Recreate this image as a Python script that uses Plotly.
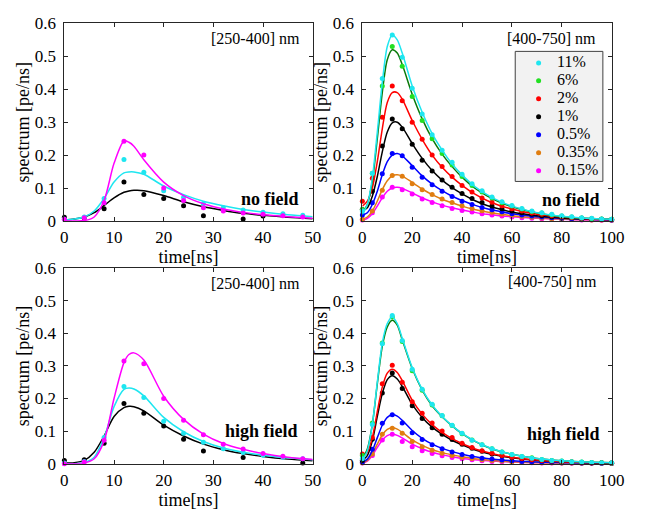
import plotly.graph_objects as go

# ---------------- data ----------------
# time grids
t_uv_pts = [0, 4, 8, 12, 16, 20, 24, 28, 32, 36, 40, 44, 48]
t_uv_fit = [0, 2, 4, 6, 8, 10, 12, 13, 14, 16, 20, 24, 28, 32, 36, 40, 45, 50]
t_vis_pts = [0, 4, 8, 12, 16, 20, 24, 28, 32, 36, 40, 44, 48, 52, 56, 60, 64, 68, 72, 76, 80, 84, 88, 92, 96, 100]
t_vis_fit = [0, 2, 4, 6, 8, 10, 12, 14, 16, 20, 24, 28, 32, 36, 40, 45, 50, 55, 60, 70, 80, 90, 100]

# no field, [250-400] nm
nf_uv_magenta_pts = [0.005, 0.01, 0.055, 0.242, 0.2, 0.1, 0.062, 0.04, 0.03, 0.024, 0.02, 0.016, 0.012]
nf_uv_cyan_pts = [0.005, 0.012, 0.068, 0.187, 0.148, 0.092, 0.072, 0.052, 0.04, 0.033, 0.026, 0.022, 0.017]
nf_uv_black_t = [0, 4, 8, 12, 16, 20, 24, 28, 36, 40]
nf_uv_black_pts = [0.011, 0.009, 0.037, 0.118, 0.08, 0.068, 0.046, 0.016, 0.006, 0.015]
nf_uv_magenta_fit = [0.0, 0.0, 0.001, 0.012, 0.062, 0.175, 0.243, 0.239, 0.227, 0.186, 0.118, 0.077, 0.052, 0.036, 0.026, 0.019, 0.013, 0.008]
nf_uv_cyan_fit = [0.003, 0.006, 0.012, 0.03, 0.068, 0.118, 0.146, 0.149, 0.149, 0.142, 0.106, 0.08, 0.06, 0.046, 0.035, 0.027, 0.019, 0.013]
nf_uv_black_fit = [0.003, 0.006, 0.012, 0.025, 0.047, 0.07, 0.087, 0.091, 0.093, 0.092, 0.077, 0.058, 0.043, 0.032, 0.023, 0.017, 0.011, 0.007]

# high field, [250-400] nm
hf_uv_magenta_pts = [0.0, 0.005, 0.072, 0.315, 0.307, 0.2, 0.133, 0.089, 0.06, 0.045, 0.031, 0.023, 0.015]
hf_uv_cyan_pts = [0.002, 0.007, 0.08, 0.237, 0.203, 0.13, 0.093, 0.066, 0.046, 0.034, 0.026, 0.02, 0.015]
hf_uv_black_t = [0, 4, 8, 12, 16, 20, 24, 28, 36, 48]
hf_uv_black_pts = [0.01, 0.012, 0.063, 0.185, 0.155, 0.116, 0.075, 0.039, 0.019, 0.002]
hf_uv_magenta_fit = [0.0, 0.0, 0.002, 0.015, 0.07, 0.2, 0.31, 0.335, 0.34, 0.318, 0.207, 0.136, 0.091, 0.062, 0.044, 0.031, 0.02, 0.013]
hf_uv_cyan_fit = [0.0, 0.0, 0.004, 0.02, 0.08, 0.175, 0.228, 0.232, 0.229, 0.208, 0.142, 0.098, 0.068, 0.048, 0.035, 0.026, 0.018, 0.012]
hf_uv_black_fit = [0.002, 0.003, 0.01, 0.035, 0.085, 0.145, 0.172, 0.176, 0.175, 0.162, 0.118, 0.085, 0.06, 0.043, 0.031, 0.022, 0.014, 0.009]

# no field, [400-750] nm
nf_vis_cyan_pts = [0.03, 0.145, 0.433, 0.565, 0.497, 0.403, 0.325, 0.262, 0.215, 0.178, 0.142, 0.113, 0.092, 0.073, 0.058, 0.047, 0.038, 0.03, 0.025, 0.02, 0.016, 0.013, 0.01, 0.008, 0.006, 0.005]
nf_vis_green_pts = [0.035, 0.145, 0.41, 0.53, 0.47, 0.378, 0.305, 0.25, 0.205, 0.17, 0.135, 0.108, 0.088, 0.07, 0.055, 0.045, 0.036, 0.029, 0.024, 0.019, 0.015, 0.012, 0.009, 0.007, 0.006, 0.005]
nf_vis_red_pts = [0.06, 0.13, 0.315, 0.41, 0.365, 0.3, 0.248, 0.2, 0.165, 0.135, 0.108, 0.088, 0.07, 0.057, 0.046, 0.037, 0.03, 0.024, 0.02, 0.016, 0.013, 0.01, 0.008, 0.007, 0.005, 0.004]
nf_vis_black_pts = [0.035, 0.09, 0.228, 0.31, 0.28, 0.233, 0.184, 0.152, 0.124, 0.102, 0.083, 0.068, 0.056, 0.045, 0.037, 0.03, 0.025, 0.02, 0.016, 0.013, 0.012, 0.01, 0.008, 0.007, 0.005, 0.004]
nf_vis_blue_pts = [0.018, 0.055, 0.143, 0.205, 0.198, 0.163, 0.133, 0.11, 0.09, 0.074, 0.06, 0.05, 0.041, 0.034, 0.028, 0.022, 0.018, 0.015, 0.012, 0.01, 0.008, 0.007, 0.006, 0.005, 0.004, 0.003]
nf_vis_orange_pts = [0.005, 0.03, 0.093, 0.138, 0.136, 0.113, 0.095, 0.08, 0.067, 0.056, 0.046, 0.038, 0.031, 0.026, 0.021, 0.017, 0.014, 0.011, 0.009, 0.007, 0.006, 0.005, 0.004, 0.003, 0.003, 0.002]
nf_vis_magenta_pts = [0.003, 0.025, 0.073, 0.102, 0.095, 0.082, 0.067, 0.056, 0.046, 0.038, 0.032, 0.027, 0.022, 0.018, 0.015, 0.012, 0.01, 0.008, 0.007, 0.006, 0.005, 0.004, 0.003, 0.003, 0.002, 0.002]
nf_vis_cyan_fit = [0.02, 0.05, 0.13, 0.27, 0.42, 0.53, 0.565, 0.55, 0.51, 0.41, 0.33, 0.265, 0.215, 0.173, 0.14, 0.105, 0.08, 0.06, 0.045, 0.025, 0.014, 0.008, 0.005]
nf_vis_green_fit = [0.025, 0.05, 0.12, 0.25, 0.39, 0.49, 0.52, 0.51, 0.475, 0.385, 0.31, 0.25, 0.203, 0.165, 0.133, 0.1, 0.076, 0.057, 0.043, 0.024, 0.013, 0.008, 0.005]
nf_vis_red_fit = [0.045, 0.06, 0.1, 0.18, 0.28, 0.36, 0.39, 0.39, 0.37, 0.305, 0.248, 0.2, 0.163, 0.133, 0.108, 0.082, 0.062, 0.047, 0.036, 0.02, 0.012, 0.007, 0.004]
nf_vis_black_fit = [0.03, 0.04, 0.075, 0.135, 0.21, 0.27, 0.298, 0.3, 0.285, 0.235, 0.19, 0.153, 0.124, 0.101, 0.082, 0.062, 0.047, 0.036, 0.027, 0.016, 0.009, 0.006, 0.004]
nf_vis_blue_fit = [0.018, 0.025, 0.05, 0.09, 0.14, 0.18, 0.2, 0.205, 0.198, 0.168, 0.137, 0.112, 0.092, 0.075, 0.062, 0.048, 0.037, 0.029, 0.022, 0.013, 0.008, 0.005, 0.003]
nf_vis_orange_fit = [0.005, 0.012, 0.03, 0.06, 0.095, 0.122, 0.137, 0.14, 0.136, 0.117, 0.097, 0.08, 0.066, 0.055, 0.045, 0.035, 0.027, 0.021, 0.016, 0.01, 0.006, 0.004, 0.003]
nf_vis_magenta_fit = [0.002, 0.008, 0.022, 0.045, 0.07, 0.09, 0.1, 0.102, 0.099, 0.085, 0.07, 0.058, 0.048, 0.04, 0.033, 0.026, 0.02, 0.016, 0.013, 0.008, 0.005, 0.003, 0.002]

# high field, [400-750] nm
hf_vis_cyan_pts = [0.015, 0.12, 0.368, 0.455, 0.378, 0.29, 0.228, 0.182, 0.148, 0.118, 0.093, 0.072, 0.058, 0.046, 0.036, 0.028, 0.022, 0.017, 0.013, 0.01, 0.008, 0.006, 0.005, 0.004, 0.003, 0.003]
hf_vis_green_pts = [0.025, 0.125, 0.37, 0.45, 0.375, 0.285, 0.225, 0.18, 0.147, 0.117, 0.092, 0.073, 0.058, 0.046, 0.036, 0.028, 0.022, 0.018, 0.013, 0.01, 0.008, 0.006, 0.005, 0.004, 0.003, 0.002]
hf_vis_red_pts = [0.03, 0.08, 0.245, 0.302, 0.25, 0.19, 0.155, 0.125, 0.1, 0.08, 0.063, 0.05, 0.04, 0.032, 0.025, 0.02, 0.016, 0.012, 0.01, 0.008, 0.006, 0.005, 0.004, 0.003, 0.003, 0.002]
hf_vis_black_pts = [0.01, 0.075, 0.217, 0.278, 0.231, 0.178, 0.139, 0.11, 0.09, 0.074, 0.06, 0.047, 0.038, 0.03, 0.024, 0.019, 0.015, 0.012, 0.01, 0.008, 0.006, 0.005, 0.004, 0.003, 0.003, 0.002]
hf_vis_blue_pts = [0.005, 0.044, 0.124, 0.15, 0.125, 0.095, 0.074, 0.058, 0.046, 0.036, 0.028, 0.022, 0.017, 0.014, 0.011, 0.009, 0.007, 0.006, 0.005, 0.004, 0.003, 0.003, 0.002, 0.002, 0.001, 0.001]
hf_vis_orange_pts = [0.003, 0.03, 0.09, 0.109, 0.093, 0.068, 0.052, 0.041, 0.032, 0.025, 0.02, 0.016, 0.012, 0.01, 0.008, 0.006, 0.005, 0.004, 0.003, 0.003, 0.002, 0.002, 0.001, 0.001, 0.001, 0.001]
hf_vis_magenta_pts = [0.002, 0.025, 0.073, 0.09, 0.068, 0.052, 0.04, 0.031, 0.024, 0.019, 0.015, 0.012, 0.009, 0.007, 0.006, 0.005, 0.004, 0.003, 0.002, 0.002, 0.002, 0.001, 0.001, 0.001, 0.001, 0.001]
hf_vis_cyan_fit = [0.01, 0.04, 0.12, 0.25, 0.37, 0.43, 0.45, 0.43, 0.385, 0.295, 0.228, 0.18, 0.145, 0.117, 0.093, 0.07, 0.052, 0.039, 0.029, 0.016, 0.009, 0.005, 0.003]
hf_vis_green_fit = [0.015, 0.045, 0.12, 0.245, 0.36, 0.42, 0.44, 0.425, 0.38, 0.292, 0.226, 0.178, 0.144, 0.116, 0.092, 0.069, 0.051, 0.038, 0.029, 0.016, 0.009, 0.005, 0.003]
hf_vis_red_fit = [0.02, 0.035, 0.08, 0.16, 0.235, 0.278, 0.29, 0.28, 0.255, 0.195, 0.152, 0.12, 0.096, 0.077, 0.062, 0.046, 0.035, 0.026, 0.02, 0.011, 0.006, 0.004, 0.002]
hf_vis_black_fit = [0.01, 0.025, 0.07, 0.145, 0.215, 0.258, 0.27, 0.26, 0.237, 0.182, 0.142, 0.112, 0.09, 0.072, 0.058, 0.043, 0.032, 0.024, 0.018, 0.01, 0.006, 0.003, 0.002]
hf_vis_blue_fit = [0.005, 0.014, 0.04, 0.08, 0.118, 0.142, 0.15, 0.146, 0.133, 0.102, 0.078, 0.06, 0.047, 0.037, 0.029, 0.021, 0.016, 0.012, 0.009, 0.005, 0.003, 0.002, 0.001]
hf_vis_orange_fit = [0.002, 0.01, 0.03, 0.06, 0.088, 0.105, 0.11, 0.106, 0.096, 0.073, 0.056, 0.043, 0.034, 0.027, 0.021, 0.015, 0.011, 0.008, 0.006, 0.003, 0.002, 0.001, 0.001]
hf_vis_magenta_fit = [0.001, 0.008, 0.025, 0.05, 0.072, 0.086, 0.09, 0.087, 0.079, 0.06, 0.046, 0.035, 0.027, 0.021, 0.016, 0.012, 0.009, 0.007, 0.005, 0.003, 0.002, 0.001, 0.001]

legend_labels = ["11%", "6%", "2%", "1%", "0.5%", "0.35%", "0.15%"]
x_ticks_uv = [0, 10, 20, 30, 40, 50]
x_ticks_vis = [0, 20, 40, 60, 80, 100]
y_ticks = [0, 0.1, 0.2, 0.3, 0.4, 0.5, 0.6]

# ---------------- styles ----------------
C_CYAN = "#1ee6f0"
C_GREEN_PT = "#22e022"
C_GREEN_LN = "#0a7a0a"
C_RED = "#ff0000"
C_BLACK = "#000000"
C_BLUE = "#0000ff"
C_ORANGE = "#e07d10"
C_MAG = "#ff00ff"
legend_colors = [C_CYAN, C_GREEN_PT, C_RED, C_BLACK, C_BLUE, C_ORANGE, C_MAG]
FONT = "Times New Roman, Liberation Serif, serif"

fig = go.Figure()


def add_series(xa, ya, t_fit, fit, t_pts, pts, pt_color, ln_color):
    fig.add_trace(go.Scatter(x=t_fit, y=fit, mode="lines", line=dict(color=ln_color, width=1.5, shape="spline", smoothing=0.8),
                             xaxis=xa, yaxis=ya, showlegend=False, hoverinfo="skip", cliponaxis=True))
    fig.add_trace(go.Scatter(x=t_pts, y=pts, mode="markers", marker=dict(color=pt_color, size=5),
                             xaxis=xa, yaxis=ya, showlegend=False, cliponaxis=False))


# top-left
add_series("x", "y", t_uv_fit, nf_uv_black_fit, nf_uv_black_t, nf_uv_black_pts, C_BLACK, C_BLACK)
add_series("x", "y", t_uv_fit, nf_uv_cyan_fit, t_uv_pts, nf_uv_cyan_pts, C_CYAN, C_CYAN)
add_series("x", "y", t_uv_fit, nf_uv_magenta_fit, t_uv_pts, nf_uv_magenta_pts, C_MAG, C_MAG)

# top-right, drawn from last to first so cyan is on top
vis_nf = [
    (nf_vis_magenta_fit, nf_vis_magenta_pts, C_MAG, C_MAG),
    (nf_vis_orange_fit, nf_vis_orange_pts, C_ORANGE, C_ORANGE),
    (nf_vis_blue_fit, nf_vis_blue_pts, C_BLUE, C_BLUE),
    (nf_vis_black_fit, nf_vis_black_pts, C_BLACK, C_BLACK),
    (nf_vis_red_fit, nf_vis_red_pts, C_RED, C_RED),
    (nf_vis_green_fit, nf_vis_green_pts, C_GREEN_PT, C_GREEN_LN),
    (nf_vis_cyan_fit, nf_vis_cyan_pts, C_CYAN, C_CYAN),
]
for fit, pts, pc, lc in vis_nf:
    add_series("x2", "y2", t_vis_fit, fit, t_vis_pts, pts, pc, lc)

# bottom-left
add_series("x3", "y3", t_uv_fit, hf_uv_black_fit, hf_uv_black_t, hf_uv_black_pts, C_BLACK, C_BLACK)
add_series("x3", "y3", t_uv_fit, hf_uv_cyan_fit, t_uv_pts, hf_uv_cyan_pts, C_CYAN, C_CYAN)
add_series("x3", "y3", t_uv_fit, hf_uv_magenta_fit, t_uv_pts, hf_uv_magenta_pts, C_MAG, C_MAG)

# bottom-right
vis_hf = [
    (hf_vis_magenta_fit, hf_vis_magenta_pts, C_MAG, C_MAG),
    (hf_vis_orange_fit, hf_vis_orange_pts, C_ORANGE, C_ORANGE),
    (hf_vis_blue_fit, hf_vis_blue_pts, C_BLUE, C_BLUE),
    (hf_vis_black_fit, hf_vis_black_pts, C_BLACK, C_BLACK),
    (hf_vis_red_fit, hf_vis_red_pts, C_RED, C_RED),
    (hf_vis_green_fit, hf_vis_green_pts, C_GREEN_PT, C_GREEN_LN),
    (hf_vis_cyan_fit, hf_vis_cyan_pts, C_CYAN, C_CYAN),
]
for fit, pts, pc, lc in vis_hf:
    add_series("x4", "y4", t_vis_fit, fit, t_vis_pts, pts, pc, lc)

# legend (own small axis pair, one row per label)
rows = list(range(len(legend_labels)))
fig.add_trace(go.Scatter(x=[24] * len(rows), y=rows, mode="markers", marker=dict(color=legend_colors, size=5),
                         xaxis="x5", yaxis="y5", showlegend=False, hoverinfo="skip", cliponaxis=False))
fig.add_trace(go.Scatter(x=[43] * len(rows), y=rows, mode="text", text=legend_labels, textposition="middle right",
                         textfont=dict(family=FONT, size=16, color="black"),
                         xaxis="x5", yaxis="y5", showlegend=False, hoverinfo="skip", cliponaxis=False))

W, H = 648, 518
XL = [62 / W, 317 / W]
XR = [368 / W, 624 / W]
YT = [1 - 220 / H, 1 - 15 / H]
YB = [1 - 472 / H, 1 - 269 / H]
LEG_X = [525 / W, 615 / W]
LEG_Y = [1 - 179 / H, 1 - 44 / H]

axis_common = dict(showline=True, linecolor="#262626", linewidth=1, mirror="allticks", ticks="inside",
                   ticklen=4, tickcolor="#262626", showgrid=False, zeroline=False,
                   tickfont=dict(family=FONT, size=17, color="black"))


def xax(domain, anchor, rng, ticks):
    return dict(axis_common, domain=domain, anchor=anchor, range=rng, tickvals=ticks,
                ticktext=[str(v) for v in ticks], ticklabelstandoff=1,
                title=dict(text="time[ns]", font=dict(family=FONT, size=18, color="black"), standoff=0))


def yax(domain, anchor):
    return dict(axis_common, domain=domain, anchor=anchor, range=[0, 0.6], tickvals=y_ticks,
                ticktext=["0", "0.1", "0.2", "0.3", "0.4", "0.5", "0.6"], ticklabelstandoff=4,
                title=dict(text="spectrum [pe/ns]", font=dict(family=FONT, size=18, color="black"), standoff=0))


fig.update_layout(
    width=W, height=H, margin=dict(l=0, r=0, t=0, b=0),
    paper_bgcolor="white", plot_bgcolor="rgba(0,0,0,0)",
    xaxis=xax(XL, "y", [0, 50], x_ticks_uv), yaxis=yax(YT, "x"),
    xaxis2=xax(XR, "y2", [0, 100], x_ticks_vis), yaxis2=yax(YT, "x2"),
    xaxis3=xax(XL, "y3", [0, 50], x_ticks_uv), yaxis3=yax(YB, "x3"),
    xaxis4=xax(XR, "y4", [0, 100], x_ticks_vis), yaxis4=yax(YB, "x4"),
    xaxis5=dict(domain=LEG_X, anchor="y5", range=[0, 90], visible=False, fixedrange=True),
    yaxis5=dict(domain=LEG_Y, anchor="x5", range=[6.6, -0.64], visible=False, fixedrange=True),
    showlegend=False,
    shapes=[dict(type="rect", xref="paper", yref="paper", x0=LEG_X[0], x1=LEG_X[1], y0=LEG_Y[0], y1=LEG_Y[1],
                 fillcolor="#f2f2f2", line=dict(color="#404040", width=1), layer="below")],
)

ann = []
def label(x, y, text, bold=False, size=15):
    ann.append(dict(x=x / W, y=1 - y / H, xref="paper", yref="paper", text=("<b>%s</b>" % text) if bold else text,
                    showarrow=False, xanchor="right", yanchor="middle",
                    font=dict(family=FONT, size=size, color="black")))

label(306, 31, "[250-400] nm", size=16)
label(610, 31, "[400-750] nm", size=16)
label(306, 285, "[250-400] nm", size=16)
label(611, 283, "[400-750] nm", size=16)
label(305, 197, "no field", bold=True, size=18)
label(614, 198, "no field", bold=True, size=18)
label(304, 438, "high field", bold=True, size=18)
label(614, 441, "high field", bold=True, size=18)
fig.update_layout(annotations=ann)

fig.write_html("out.html")
